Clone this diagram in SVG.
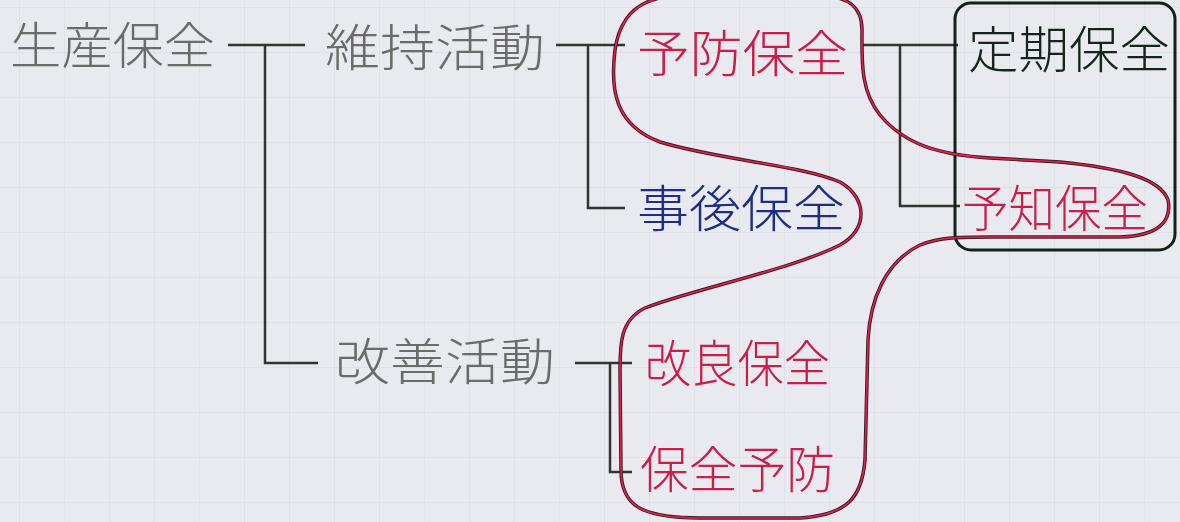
<svg xmlns="http://www.w3.org/2000/svg" width="1180" height="522" viewBox="0 0 1180 522">
<defs>
<pattern id="grid" width="45" height="45" patternUnits="userSpaceOnUse" x="20" y="8">
<path d="M45 0V45M0 45H45" fill="none" stroke="#d6d9e0" stroke-width="1"/>
</pattern>
<style>
.t{font-family:"Noto Sans CJK JP","Noto Sans CJK SC",sans-serif;font-size:50px;font-weight:300}
.g{fill:#6b6b6b}
.r{fill:#c81e4a}
.b{fill:#1e2d86}
.k{fill:#15251c}
.c{fill:none;stroke:#333;stroke-width:2.5}
</style>
</defs>
<rect width="1180" height="522" fill="#e8eaef"/>
<rect width="1180" height="522" fill="url(#grid)"/>
<g id="connectors">
<path class="c" d="M228 45H305M265 45V363H318"/>
<path class="c" d="M556 45H625M588 45V208H625"/>
<path class="c" d="M575 363H632M610 363V472H632"/>
<path class="c" d="M862 45H958M900 45V206H960"/>
</g>
<g id="group-box">
<rect x="955" y="3" width="220" height="247" rx="16" fill="none" stroke="#12221a" stroke-width="3"/>
</g>
<g id="group-loop">
<path id="loop" d="M615 50 C610 90 615 125 660 142 C720 160 800 165 840 182 C868 198 868 230 840 245 C790 270 690 290 645 308 C620 320 620 345 620 370 L621 470 C621 505 640 518 700 518 L800 518 C850 515 862 495 865 460 L868 340 C870 300 885 262 920 245 C940 237 960 237 990 237 L1120 237 C1160 236 1172 220 1168 200 C1160 178 1120 168 1060 162 L990 158 C940 155 905 145 880 115 C860 90 862 60 862 30 C862 8 850 -4 820 -4 L680 -4 C640 -4 620 15 615 50 Z" fill="none" stroke="#3a1820" stroke-width="3.5"/>
<path d="M615 50 C610 90 615 125 660 142 C720 160 800 165 840 182 C868 198 868 230 840 245 C790 270 690 290 645 308 C620 320 620 345 620 370 L621 470 C621 505 640 518 700 518 L800 518 C850 515 862 495 865 460 L868 340 C870 300 885 262 920 245 C940 237 960 237 990 237 L1120 237 C1160 236 1172 220 1168 200 C1160 178 1120 168 1060 162 L990 158 C940 155 905 145 880 115 C860 90 862 60 862 30 C862 8 850 -4 820 -4 L680 -4 C640 -4 620 15 615 50 Z" fill="none" stroke="#e8204e" stroke-width="1.6"/>
</g>
<g id="n-seisan"><text class="t g" x="10" y="64" textLength="205" lengthAdjust="spacingAndGlyphs">生産保全</text></g>
<g id="n-iji"><text class="t g" x="325" y="66" textLength="220" lengthAdjust="spacingAndGlyphs">維持活動</text></g>
<g id="n-kaizen"><text class="t g" x="335" y="380" textLength="220" lengthAdjust="spacingAndGlyphs">改善活動</text></g>
<g id="n-yobou"><text class="t r" x="637" y="72" textLength="211" lengthAdjust="spacingAndGlyphs">予防保全</text></g>
<g id="n-jigo"><text class="t b" x="637" y="227" textLength="208" lengthAdjust="spacingAndGlyphs">事後保全</text></g>
<g id="n-kairyou"><text class="t r" x="645" y="382" textLength="185" lengthAdjust="spacingAndGlyphs">改良保全</text></g>
<g id="n-hozenyobou"><text class="t r" x="640" y="488" textLength="195" lengthAdjust="spacingAndGlyphs">保全予防</text></g>
<g id="n-teiki"><text class="t k" x="968" y="68" textLength="202" lengthAdjust="spacingAndGlyphs">定期保全</text></g>
<g id="n-yochi"><text class="t r" x="962" y="227" textLength="186" lengthAdjust="spacingAndGlyphs">予知保全</text></g>
</svg>
